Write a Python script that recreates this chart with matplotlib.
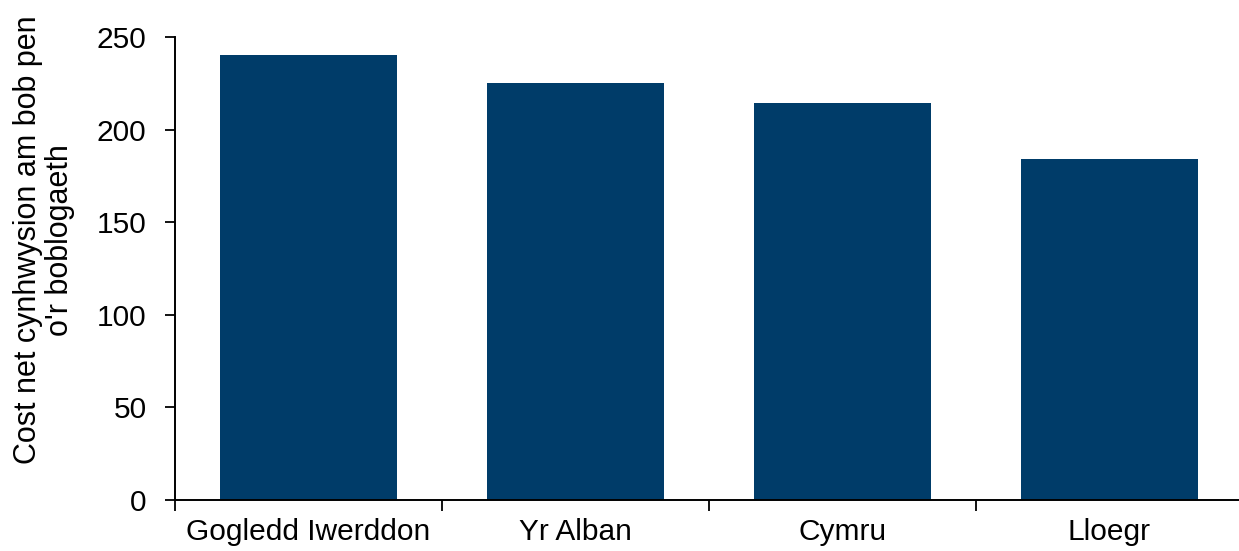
import matplotlib
matplotlib.use("Agg")
import matplotlib.pyplot as plt
import numpy as np

categories = ["Gogledd Iwerddon", "Yr Alban", "Cymru", "Lloegr"]
values = [240.5, 225.2, 214.4, 184.2]
yticks = [0, 50, 100, 150, 200, 250]
ylabel = "Cost net cynhwysion am bob pen\no'r boblogaeth"

plt.rcParams['font.family'] = ['Liberation Sans', 'DejaVu Sans']
fs = 21.5

fig = plt.figure(figsize=(12.39, 5.51), dpi=100)
ax = fig.add_axes([175/1239, 1-500/551, 1068/1239, (500-37.3)/551])

x = np.arange(len(categories))
ax.bar(x, values, width=0.665, color="#003C69", zorder=2)

ax.set_xlim(-0.5, len(categories) - 0.5)
ax.set_ylim(0, 250)
ax.set_yticks(yticks)
ax.set_yticklabels([str(t) for t in yticks], fontsize=fs)
ax.set_xticks(x)
ax.set_xticklabels(categories, fontsize=fs)
ax.set_xticks(np.arange(len(categories) + 1) - 0.5, minor=True)
ax.tick_params(axis='x', which='major', length=0, pad=13)
ax.tick_params(axis='x', which='minor', length=8, width=1.3, direction='out')
ax.tick_params(axis='y', length=7, width=1.3, direction='out', pad=13.5)

for s in ['top', 'right']:
    ax.spines[s].set_visible(False)
for s in ['left', 'bottom']:
    ax.spines[s].set_linewidth(1.4)

fig.text(44/1239, 1-240/551, ylabel, rotation=90, ha='center', va='center',
         multialignment='center', fontsize=22, linespacing=1.1)

fig.savefig("out.png", dpi=100)
